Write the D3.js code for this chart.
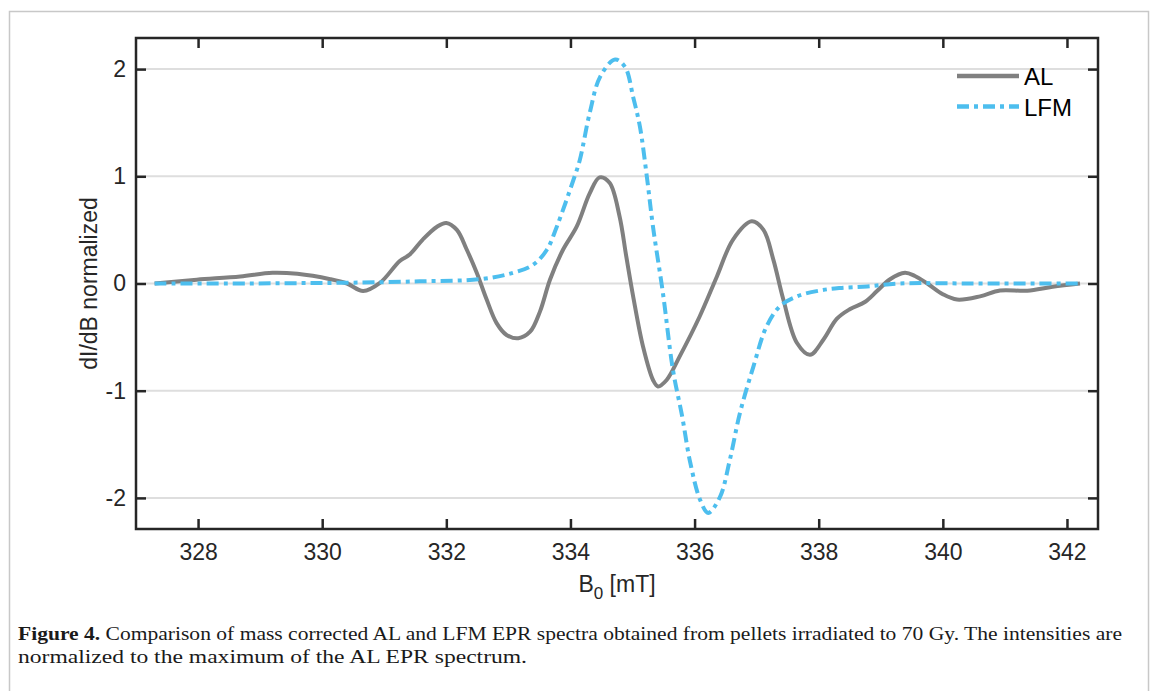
<!DOCTYPE html>
<html>
<head>
<meta charset="utf-8">
<script src="https://cdn.jsdelivr.net/npm/d3@7"></script>
<style>
  body { margin: 0; background: #fff; }
  svg { display: block; }
  .tick text { font-family: "Liberation Sans", Arial, sans-serif; font-size: 23px; fill: #262626; }
  .tick line { stroke: #262626; stroke-width: 2.5; }
</style>
</head>
<body>
<div id="vis"></div>
<script>
const FRAME_WIDTH = 1153;
const FRAME_HEIGHT = 691;
const PLOT = {left: 136, right: 1098, top: 38, bottom: 529};

// data
const xTicks = [328, 330, 332, 334, 336, 338, 340, 342];
const yTicks = [-2, -1, 0, 1, 2];

const alField = [327.3, 327.98, 328.68, 329.2, 329.6, 330.13, 330.4, 330.66, 330.93, 331.25, 331.41,
    331.62, 331.85, 332.0, 332.17, 332.33, 332.49, 332.65, 332.81, 332.97, 333.16, 333.35, 333.51,
    333.67, 333.88, 334.1, 334.31, 334.47, 334.63, 334.79, 334.9, 335.01, 335.17, 335.33, 335.41,
    335.55, 335.76, 336.08, 336.36, 336.62, 336.92, 337.11, 337.27, 337.43, 337.65, 337.86, 338.08,
    338.29, 338.5, 338.75, 338.94, 339.15, 339.39, 339.55, 339.75, 340.0, 340.23, 340.6, 340.92,
    341.36, 341.77, 342.21];
const alValue = [0, 0.035, 0.066, 0.10, 0.09, 0.04, 0.0, -0.07, 0.005, 0.21, 0.27,
    0.41, 0.53, 0.565, 0.50, 0.315, 0.10, -0.15, -0.37, -0.48, -0.51, -0.45, -0.26,
    0.035, 0.315, 0.53, 0.84, 0.99, 0.94, 0.63, 0.25, -0.12, -0.59, -0.90, -0.96,
    -0.90, -0.68, -0.31, 0.066, 0.41, 0.58, 0.50, 0.22, -0.15, -0.555, -0.665, -0.52,
    -0.33, -0.24, -0.17, -0.07, 0.04, 0.10, 0.07, 0.0, -0.10, -0.15, -0.12, -0.065,
    -0.067, -0.03, 0];

const lfmField = [327.3, 328.5, 329.5, 330.5, 331.57, 332.54, 333.08, 333.4, 333.62, 333.78, 334.05,
    334.15, 334.31, 334.48, 334.72, 334.88, 335.01, 335.12, 335.23, 335.33, 335.49, 335.65, 335.8,
    335.93, 336.09, 336.22, 336.41, 336.57, 336.73, 336.95, 337.16, 337.38, 337.65, 338.02, 338.34,
    338.78, 339.31, 340.5, 341.5, 342.21];
const lfmValue = [0, 0, 0.003, 0.008, 0.02, 0.04, 0.10, 0.175, 0.315, 0.53, 0.97,
    1.15, 1.59, 1.93, 2.09, 2.02, 1.74, 1.46, 1.0, 0.53, -0.09, -0.80, -1.24,
    -1.67, -2.02, -2.14, -1.99, -1.64, -1.21, -0.77, -0.40, -0.21, -0.12, -0.065, -0.042,
    -0.027, 0, 0, 0, 0];

const seriesNames = ["AL", "LFM"];
const seriesColors = ["#808080", "#4DBEEE"];

const captionBold = "Figure 4.";
const captionLine1 = " Comparison of mass corrected AL and LFM EPR spectra obtained from pellets irradiated to 70 Gy. The intensities are";
const captionLine2 = "normalized to the maximum of the AL EPR spectrum.";

const svg = d3.select("#vis")
    .append("svg")
    .attr("width", FRAME_WIDTH)
    .attr("height", FRAME_HEIGHT);

// outer figure border
svg.append("rect")
    .attr("x", 9.5).attr("y", 11.5)
    .attr("width", 1139).attr("height", 720)
    .attr("fill", "none")
    .attr("stroke", "#c8c8c8")
    .attr("stroke-width", 1.5);

const X_SCALE = d3.scaleLinear().domain([327, 342.5]).range([PLOT.left, PLOT.right]);
const Y_SCALE = d3.scaleLinear().domain([-2.29, 2.29]).range([PLOT.bottom, PLOT.top]);

// gridlines
svg.append("g").selectAll("line")
    .data(yTicks)
    .enter().append("line")
    .attr("x1", PLOT.left).attr("x2", PLOT.right)
    .attr("y1", d => Y_SCALE(d)).attr("y2", d => Y_SCALE(d))
    .attr("stroke", "#dedede")
    .attr("stroke-width", 2);

// axes, ticks pointing inward
svg.append("g")
    .attr("transform", "translate(0," + PLOT.bottom + ")")
    .call(d3.axisBottom(X_SCALE).tickValues(xTicks).tickSize(-10).tickPadding(15).tickFormat(d3.format("d")));
svg.append("g")
    .attr("transform", "translate(0," + PLOT.top + ")")
    .call(d3.axisTop(X_SCALE).tickValues(xTicks).tickSize(-10).tickFormat(""));
svg.append("g")
    .attr("transform", "translate(" + PLOT.left + ",0)")
    .call(d3.axisLeft(Y_SCALE).tickValues(yTicks).tickSize(-10).tickPadding(10).tickFormat(d3.format("d")));
svg.append("g")
    .attr("transform", "translate(" + PLOT.right + ",0)")
    .call(d3.axisRight(Y_SCALE).tickValues(yTicks).tickSize(-10).tickFormat(""));
svg.selectAll(".domain").remove();
svg.selectAll(".tick text").text(function () { return d3.select(this).text().replace("−", "-"); });

// curves
const line = d3.line()
    .x(d => X_SCALE(d[0]))
    .y(d => Y_SCALE(d[1]))
    .curve(d3.curveCatmullRom.alpha(0.5));

svg.append("path")
    .datum(d3.zip(alField, alValue))
    .attr("d", line)
    .attr("fill", "none")
    .attr("stroke", seriesColors[0])
    .attr("stroke-width", 4);

svg.append("path")
    .datum(d3.zip(lfmField, lfmValue))
    .attr("d", line)
    .attr("fill", "none")
    .attr("stroke", seriesColors[1])
    .attr("stroke-width", 4)
    .attr("stroke-dasharray", "12,5,4,5");

// plot box
svg.append("rect")
    .attr("x", PLOT.left).attr("y", PLOT.top)
    .attr("width", PLOT.right - PLOT.left).attr("height", PLOT.bottom - PLOT.top)
    .attr("fill", "none")
    .attr("stroke", "#262626")
    .attr("stroke-width", 2.5);

// legend
const legend = svg.append("g");
seriesNames.forEach((name, i) => {
    const ly = 76 + i * 30.5;
    legend.append("line")
        .attr("x1", 957).attr("x2", 1019)
        .attr("y1", ly).attr("y2", ly)
        .attr("stroke", seriesColors[i])
        .attr("stroke-width", 4.5)
        .attr("stroke-dasharray", i === 1 ? "12,5,4,5" : null);
    legend.append("text")
        .attr("x", 1024).attr("y", ly + 9)
        .attr("font-family", "Liberation Sans, Arial, sans-serif")
        .attr("font-size", 24)
        .attr("fill", "#000")
        .text(name);
});

// axis labels
const xLabel = svg.append("text")
    .attr("x", (PLOT.left + PLOT.right) / 2)
    .attr("y", 592)
    .attr("text-anchor", "middle")
    .attr("font-family", "Liberation Sans, Arial, sans-serif")
    .attr("font-size", 23)
    .attr("fill", "#262626");
xLabel.append("tspan").text("B");
xLabel.append("tspan").attr("dy", 7).attr("font-size", 17).text("0");
xLabel.append("tspan").attr("dy", -7).text(" [mT]");

svg.append("text")
    .attr("transform", "translate(97," + Y_SCALE(0) + ") rotate(-90)")
    .attr("text-anchor", "middle")
    .attr("font-family", "Liberation Sans, Arial, sans-serif")
    .attr("font-size", 23)
    .attr("fill", "#262626")
    .text("dI/dB normalized");

// caption
const cap1 = svg.append("text")
    .attr("x", 18).attr("y", 640)
    .attr("font-family", "Liberation Serif, Times New Roman, serif")
    .attr("font-size", 19.5)
    .attr("fill", "#1a1a1a")
    .attr("textLength", 1104)
    .attr("lengthAdjust", "spacingAndGlyphs");
cap1.append("tspan").attr("font-weight", "bold").text(captionBold);
cap1.append("tspan").text(captionLine1);

svg.append("text")
    .attr("x", 18).attr("y", 663)
    .attr("font-family", "Liberation Serif, Times New Roman, serif")
    .attr("font-size", 19.5)
    .attr("fill", "#1a1a1a")
    .attr("textLength", 509)
    .attr("lengthAdjust", "spacingAndGlyphs")
    .text(captionLine2);
</script>
</body>
</html>
